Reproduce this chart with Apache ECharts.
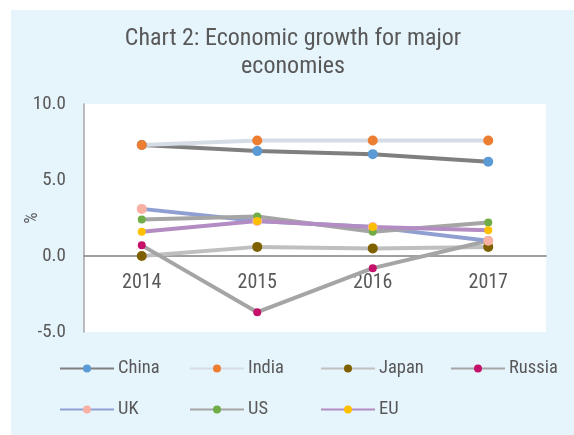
<!DOCTYPE html>
<html>
<head>
<meta charset="utf-8">
<script src="https://cdn.jsdelivr.net/npm/echarts@6/dist/echarts.min.js"></script>
<style>
  html, body { margin: 0; padding: 0; background: #fff; }
  #chart { width: 574px; height: 435px; }
</style>
</head>
<body>
<div id="chart"></div>
<script>
// 数据
const years = ['2014', '2015', '2016', '2017'];
const china = [7.3, 6.9, 6.7, 6.2];
const india = [7.3, 7.6, 7.6, 7.6];
const japan = [0.0, 0.6, 0.5, 0.6];
const russia = [0.7, -3.7, -0.8, 1.0];
const uk = [3.1, 2.3, 1.9, 1.0];
const us = [2.4, 2.6, 1.6, 2.2];
const eu = [1.6, 2.3, 1.9, 1.7];
const yTicks = [-5, 0, 5, 10];

const FONT = "'Roboto Condensed', 'Liberation Sans Narrow', Roboto, sans-serif";
const TXT = '#595959';

// 每条线：名称、数据、线色、点色、点大小
const seriesDefs = [
  { name: 'China', data: china, line: '#7f7f7f', dot: '#5b9bd5', size: 10 },
  { name: 'India', data: india, line: '#d6dce5', dot: '#ed7d31', size: 10 },
  { name: 'Japan', data: japan, line: '#bfbfbf', dot: '#7f6000', size: 10 },
  { name: 'Russia', data: russia, line: '#a5a5a5', dot: '#c5116a', size: 8 },
  { name: 'UK', data: uk, line: '#8f9fd1', dot: '#f8b0a2', size: 10 },
  { name: 'US', data: us, line: '#a5a5a5', dot: '#70ad47', size: 8 },
  { name: 'EU', data: eu, line: '#b28cc3', dot: '#ffc000', size: 8 }
];

// 图例位置（两行）
const legendPos = [
  [59, 359], [189, 359], [320, 359], [450, 359],
  [59, 400], [189, 400], [320, 400]
];

const GRID_BOTTOM = 103;

const chart = echarts.init(document.getElementById('chart'));

const option = {
  backgroundColor: '#ffffff',
  animation: false,
  textStyle: { fontFamily: FONT },
  graphic: [{
    type: 'rect',
    z: -10,
    silent: true,
    shape: { x: 11, y: 10, width: 563, height: 425 },
    style: { fill: '#e6f4fc' }
  }],
  title: {
    text: 'Chart 2: Economic growth for major\neconomies',
    left: 288,
    top: 20,
    textAlign: 'center',
    textStyle: {
      fontFamily: FONT,
      fontSize: 24,
      fontWeight: 'normal',
      color: TXT,
      lineHeight: 28
    }
  },
  legend: seriesDefs.map((s, i) => ({
    data: [s.name],
    left: legendPos[i][0],
    top: legendPos[i][1],
    itemWidth: 54,
    itemHeight: 10,
    itemGap: 0,
    padding: 0,
    textStyle: { fontFamily: FONT, fontSize: 18.5, color: TXT, padding: [0, 0, 0, -1] }
  })),
  grid: {
    left: 84,
    right: 28,
    top: 104,
    bottom: GRID_BOTTOM,
    show: true,
    backgroundColor: '#ffffff',
    borderWidth: 0
  },
  xAxis: {
    type: 'category',
    data: years,
    boundaryGap: true,
    axisLine: { onZero: false, lineStyle: { color: '#808080', width: 1.5 } },
    axisTick: { show: false },
    axisLabel: { color: TXT, fontSize: 20, margin: 17, fontFamily: FONT },
    splitLine: { show: false }
  },
  yAxis: {
    type: 'value',
    min: yTicks[0],
    max: yTicks[yTicks.length - 1],
    interval: 5,
    name: '%',
    nameLocation: 'middle',
    nameGap: 43,
    nameRotate: 90,
    nameMoveOverlap: false,
    nameTextStyle: { color: TXT, fontSize: 18, fontFamily: FONT },
    axisLine: { show: true, lineStyle: { color: '#a6a6a6', width: 1.5 } },
    axisTick: { show: false },
    axisLabel: {
      color: TXT, fontSize: 19, margin: 18, fontFamily: FONT,
      formatter: v => v.toFixed(1)
    },
    splitLine: { show: false }
  },
  series: seriesDefs.map(s => ({
    name: s.name,
    type: 'line',
    data: s.data,
    symbol: 'circle',
    symbolSize: s.size,
    showSymbol: true,
    lineStyle: { color: s.line, width: 4 },
    itemStyle: { color: s.dot, borderWidth: 0 }
  }))
};

chart.setOption(option);

// 把 x 轴（连同标签）移到 y=0 处
const bottomPx = 435 - GRID_BOTTOM;
const zeroPx = chart.convertToPixel({ yAxisIndex: 0 }, 0);
chart.setOption({ xAxis: { offset: -(bottomPx - zeroPx) } });
</script>
</body>
</html>
